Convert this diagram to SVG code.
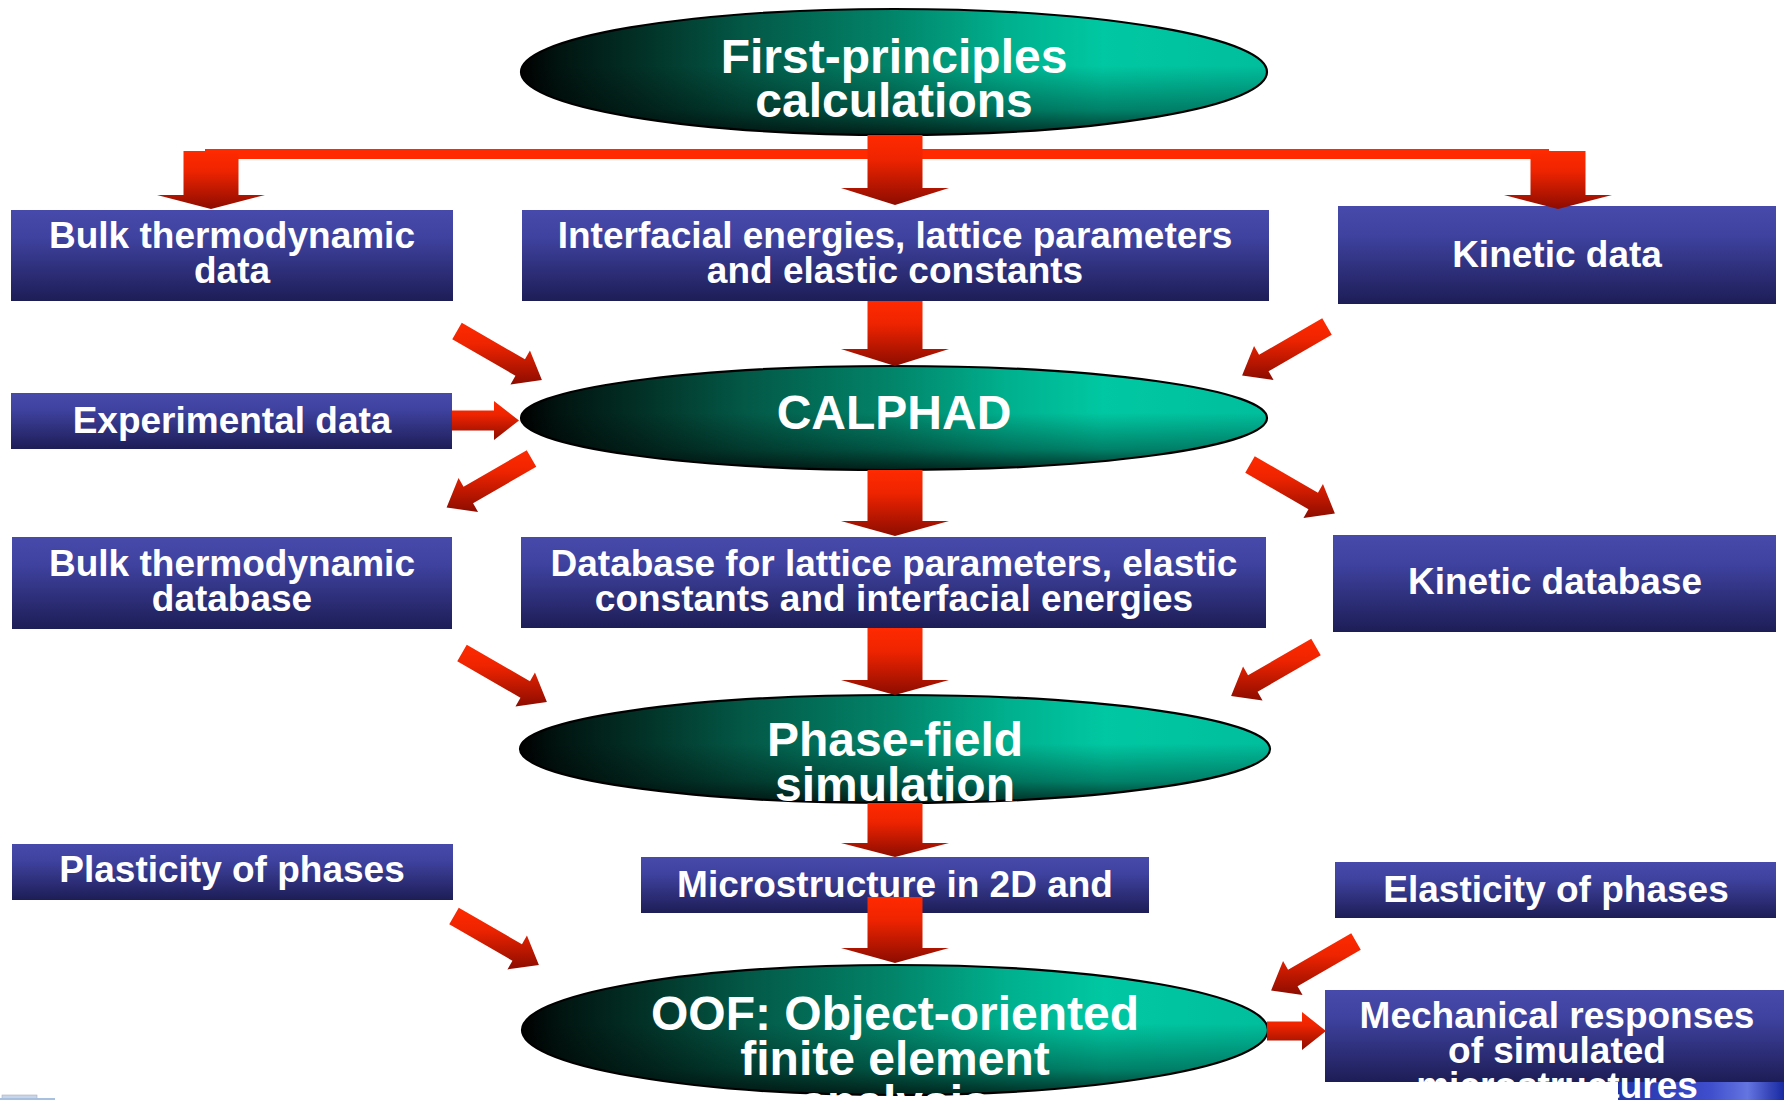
<svg xmlns="http://www.w3.org/2000/svg" width="1784" height="1100" viewBox="0 0 1784 1100">
<style>
.t{font-family:"Liberation Sans",Arial,Helvetica,sans-serif;font-weight:bold;fill:#ffffff;text-anchor:middle}
.e{font-size:48px}
.b{font-size:37px}
.box{fill:url(#boxG)}
.ell{fill:url(#ellH)}
.ellS{fill:url(#ellV);stroke:#000;stroke-width:2.2}
.arr{fill:url(#redV)}
</style>
<defs>
<linearGradient id="boxG" x1="0" y1="0" x2="0" y2="1">
<stop offset="0" stop-color="#474AAA"/>
<stop offset="0.3" stop-color="#3F429F"/>
<stop offset="1" stop-color="#1D1D56"/>
</linearGradient>
<linearGradient id="ellH" x1="0" y1="0" x2="1" y2="0">
<stop offset="0" stop-color="#000000"/>
<stop offset="0.05" stop-color="#011410"/>
<stop offset="0.15" stop-color="#022E24"/>
<stop offset="0.3" stop-color="#035846"/>
<stop offset="0.5" stop-color="#02856A"/>
<stop offset="0.65" stop-color="#00B08E"/>
<stop offset="0.78" stop-color="#00C8A2"/>
<stop offset="1" stop-color="#00BE9C"/>
</linearGradient>
<linearGradient id="ellV" x1="0" y1="0" x2="0" y2="1">
<stop offset="0" stop-color="#000" stop-opacity="0"/>
<stop offset="0.45" stop-color="#000" stop-opacity="0"/>
<stop offset="0.8" stop-color="#000" stop-opacity="0.35"/>
<stop offset="1" stop-color="#000" stop-opacity="0.75"/>
</linearGradient>
<linearGradient id="redV" x1="0" y1="0" x2="0" y2="1">
<stop offset="0" stop-color="#FF2A00"/>
<stop offset="0.35" stop-color="#EE2400"/>
<stop offset="1" stop-color="#8C0C00"/>
</linearGradient>
<linearGradient id="patch" x1="0" y1="0" x2="1" y2="0">
<stop offset="0" stop-color="#2434A8"/>
<stop offset="0.55" stop-color="#3E4ECC"/>
<stop offset="0.78" stop-color="#6474E0"/>
<stop offset="1" stop-color="#1828A0"/>
</linearGradient>
<path id="adr" class="arr" d="M-4.75 8.23L58.45 44.73L53.45 53.39L84.9 49L72.95 19.61L67.95 28.27L4.75 -8.23Z"/>
<path id="adl" class="arr" d="M-4.75 -8.23L-67.95 28.27L-72.95 19.61L-84.9 49L-53.45 53.39L-58.45 44.73L4.75 8.23Z"/>
</defs>
<rect width="1784" height="1100" fill="#ffffff"/>
<rect x="1618" y="1082" width="166" height="18" fill="url(#patch)"/>
<rect x="2" y="1095" width="35" height="5" fill="#C8D4E8" stroke="#A8B0C0" stroke-width="0.6"/>
<rect x="0" y="1098" width="55" height="2" fill="#A8C0E0"/>

<g id="first-principles">
<ellipse class="ell" cx="894" cy="72" rx="373" ry="63"/>
<ellipse class="ellS" cx="894" cy="72" rx="373" ry="63"/>
<text class="t e" x="894" y="73">First-principles</text>
<text class="t e" x="894" y="117">calculations</text>
</g>
<g id="bulk-data">
<rect class="box" x="11" y="210" width="442" height="91"/>
<text class="t b" x="232" y="248">Bulk thermodynamic</text>
<text class="t b" x="232" y="283">data</text>
</g>
<g id="interfacial">
<rect class="box" x="522" y="210" width="747" height="91"/>
<text class="t b" x="895" y="248">Interfacial energies, lattice parameters</text>
<text class="t b" x="895" y="283">and elastic constants</text>
</g>
<g id="kinetic-data">
<rect class="box" x="1338" y="206" width="438" height="98"/>
<text class="t b" x="1557" y="267">Kinetic data</text>
</g>
<g id="experimental">
<rect class="box" x="11" y="393" width="441" height="56"/>
<text class="t b" x="232" y="433">Experimental data</text>
</g>
<g id="calphad">
<ellipse class="ell" cx="894" cy="418" rx="373" ry="52"/>
<ellipse class="ellS" cx="894" cy="418" rx="373" ry="52"/>
<text class="t e" x="894" y="429">CALPHAD</text>
</g>
<g id="bulk-database">
<rect class="box" x="12" y="537" width="440" height="92"/>
<text class="t b" x="232" y="576">Bulk thermodynamic</text>
<text class="t b" x="232" y="611">database</text>
</g>
<g id="database">
<rect class="box" x="521" y="537" width="745" height="91"/>
<text class="t b" x="894" y="576">Database for lattice parameters, elastic</text>
<text class="t b" x="894" y="611">constants and interfacial energies</text>
</g>
<g id="kinetic-database">
<rect class="box" x="1333" y="535" width="443" height="97"/>
<text class="t b" x="1555" y="594">Kinetic database</text>
</g>
<g id="phase-field">
<ellipse class="ell" cx="895" cy="749" rx="375" ry="54"/>
<ellipse class="ellS" cx="895" cy="749" rx="375" ry="54"/>
<text class="t e" x="895" y="756">Phase-field</text>
<text class="t e" x="895" y="801">simulation</text>
</g>
<g id="plasticity">
<rect class="box" x="12" y="844" width="441" height="56"/>
<text class="t b" x="232" y="882">Plasticity of phases</text>
</g>
<g id="microstructure">
<rect class="box" x="641" y="857" width="508" height="56"/>
<text class="t b" x="895" y="897">Microstructure in 2D and</text>
</g>
<g id="elasticity">
<rect class="box" x="1335" y="862" width="441" height="56"/>
<text class="t b" x="1556" y="902">Elasticity of phases</text>
</g>
<g id="oof">
<ellipse class="ell" cx="895" cy="1030" rx="373" ry="65"/>
<ellipse class="ellS" cx="895" cy="1030" rx="373" ry="65"/>
<text class="t e" x="895" y="1030">OOF: Object-oriented</text>
<text class="t e" x="895" y="1075">finite element</text>
<text class="t e" x="895" y="1119">analysis</text>
</g>
<g id="mechanical">
<rect class="box" x="1325" y="990" width="465" height="92"/>
<text class="t b" x="1557" y="1028">Mechanical responses</text>
<text class="t b" x="1557" y="1063">of simulated</text>
<text class="t b" x="1557" y="1098">microstructures</text>
</g>

<g id="connectors">
<rect x="205" y="149" width="1344" height="10" fill="#FF2A00"/>
<polygon class="arr" points="183.5,151 238.5,151 238.5,195 265,195 211,209 157,195 183.5,195"/>
<polygon class="arr" points="867.5,135 922.5,135 922.5,188 949,188 895,205 841,188 867.5,188"/>
<polygon class="arr" points="1530.5,151 1585.5,151 1585.5,195 1612,195 1558,209 1504,195 1530.5,195"/>
<polygon class="arr" points="867.5,301 922.5,301 922.5,349 949,349 895,366 841,349 867.5,349"/>
<polygon class="arr" points="867.5,470 922.5,470 922.5,521 949,521 895,536 841,521 867.5,521"/>
<polygon class="arr" points="867.5,628 922.5,628 922.5,680 949,680 895,695 841,680 867.5,680"/>
<polygon class="arr" points="867.5,803 922.5,803 922.5,843 949,843 895,857 841,843 867.5,843"/>
<polygon class="arr" points="867.5,897 922.5,897 922.5,948 949,948 895,963 841,948 867.5,948"/>
<path class="arr" d="M452 410.5H494V401L519 420.5L494 440V430.5H452Z"/>
<path class="arr" d="M1267 1021.5H1302V1012L1326 1031L1302 1050V1040.5H1267Z"/>
<use href="#adr" transform="translate(457 331)"/>
<use href="#adl" transform="translate(531.5 458.5)"/>
<use href="#adl" transform="translate(1327 326.5)"/>
<use href="#adr" transform="translate(1250 464.5)"/>
<use href="#adr" transform="translate(462 653)"/>
<use href="#adl" transform="translate(1316 647)"/>
<use href="#adr" transform="translate(454 916)"/>
<use href="#adl" transform="translate(1356 941.5)"/>
</g>
</svg>
